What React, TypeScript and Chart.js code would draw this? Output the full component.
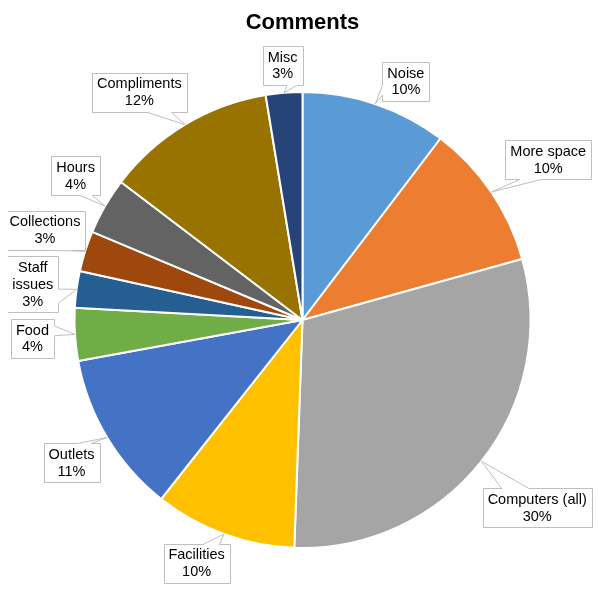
import React, { useEffect, useRef } from 'react';
import { Chart, registerables } from 'chart.js';

Chart.register(...registerables);

// ---- data ----
const categories = [
  'Noise',
  'More space',
  'Computers (all)',
  'Facilities',
  'Outlets',
  'Food',
  'Staff issues',
  'Collections',
  'Hours',
  'Compliments',
  'Misc',
];
const counts = [36, 36, 104, 35, 40, 13, 9, 10, 14, 42, 9];
const colors = [
  '#5B9BD5',
  '#ED7D31',
  '#A5A5A5',
  '#FFC000',
  '#4472C4',
  '#70AD47',
  '#255E91',
  '#9E480E',
  '#636363',
  '#997300',
  '#264478',
];
const titleText = 'Comments';

// ---- label layout (offset of callout box centre from slice edge point) ----
const labelOffsets: [number, number][] = [
  [30.6, -22.4],
  [57, -32.1],
  [55.7, 46.5],
  [-27.3, 29.2],
  [-35.6, 25.3],
  [-42.5, 4],
  [-43.8, -4.9],
  [-40.2, -20.8],
  [-29.5, -30],
  [-45.6, -32.6],
  [-1.3, -27.3],
];
const wrappedNames: Record<string, string[]> = { 'Staff issues': ['Staff', 'issues'] };

const FONT = "'Liberation Sans', Arial, Helvetica, sans-serif";
const LINE = 16.7;

const calloutPlugin = {
  id: 'callouts',
  afterDatasetsDraw(chart: any) {
    const ctx = chart.ctx as CanvasRenderingContext2D;
    const meta = chart.getDatasetMeta(0);
    const data = chart.data.datasets[0].data as number[];
    const total = data.reduce((a, b) => a + b, 0);
    ctx.save();
    ctx.font = `14.5px ${FONT}`;
    meta.data.forEach((arc: any, i: number) => {
      const { x, y, startAngle, endAngle, outerRadius } = arc.getProps(
        ['x', 'y', 'startAngle', 'endAngle', 'outerRadius'],
        true
      );
      const mid = (startAngle + endAngle) / 2;
      const tx = x + Math.cos(mid) * outerRadius;
      const ty = y + Math.sin(mid) * outerRadius;
      const name = categories[i];
      const lines = [...(wrappedNames[name] || [name]), Math.round((data[i] / total) * 100) + '%'];
      const tw = Math.max(...lines.map((l) => ctx.measureText(l).width));
      const w = Math.round(tw + 10);
      const h = Math.round(lines.length * LINE + 6);
      const cx = tx + labelOffsets[i][0];
      const cy = ty + labelOffsets[i][1];
      const l = Math.round(cx - w / 2) + 0.5;
      const t = Math.round(cy - h / 2) + 0.5;
      const r = l + w;
      const b = t + h;
      const dx = tx - cx;
      const dy = ty - cy;
      const dq = (dx * h) / w;
      const dz = Math.abs(dy) - Math.abs(dq);
      const x1 = l + (w * (dx > 0 ? 7 : 2)) / 12;
      const x2 = l + (w * (dx > 0 ? 10 : 5)) / 12;
      const y1 = t + (h * (dy > 0 ? 7 : 2)) / 12;
      const y2 = t + (h * (dy > 0 ? 10 : 5)) / 12;

      ctx.beginPath();
      ctx.moveTo(l, t);
      if (dz > 0 && dy < 0) {
        ctx.lineTo(x1, t);
        ctx.lineTo(tx, ty);
        ctx.lineTo(x2, t);
      }
      ctx.lineTo(r, t);
      if (dz <= 0 && dx > 0) {
        ctx.lineTo(r, y1);
        ctx.lineTo(tx, ty);
        ctx.lineTo(r, y2);
      }
      ctx.lineTo(r, b);
      if (dz > 0 && dy > 0) {
        ctx.lineTo(x2, b);
        ctx.lineTo(tx, ty);
        ctx.lineTo(x1, b);
      }
      ctx.lineTo(l, b);
      if (dz <= 0 && dx < 0) {
        ctx.lineTo(l, y2);
        ctx.lineTo(tx, ty);
        ctx.lineTo(l, y1);
      }
      ctx.closePath();
      ctx.fillStyle = '#FFFFFF';
      ctx.fill();
      ctx.strokeStyle = '#BFBFBF';
      ctx.lineWidth = 1;
      ctx.stroke();

      ctx.fillStyle = '#000000';
      ctx.textAlign = 'center';
      ctx.textBaseline = 'middle';
      const n = lines.length;
      lines.forEach((line, k) => {
        ctx.fillText(line, cx, cy + (k - (n - 1) / 2) * LINE + 0.5);
      });
    });
    ctx.restore();
  },
};

export default function App() {
  const canvasRef = useRef<HTMLCanvasElement | null>(null);

  useEffect(() => {
    if (!canvasRef.current) return;
    const chart = new Chart(canvasRef.current, {
      type: 'pie',
      data: {
        labels: categories,
        datasets: [
          {
            data: counts,
            backgroundColor: colors,
            borderColor: '#FFFFFF',
            borderWidth: 2,
            radius: 228,
          } as any,
        ],
      },
      options: {
        animation: false,
        responsive: true,
        maintainAspectRatio: false,
        layout: { padding: 0 },
        plugins: {
          legend: { display: false },
          tooltip: { enabled: false },
          title: {
            display: true,
            text: titleText,
            color: '#000000',
            font: { family: FONT, size: 22, weight: 'bold' },
            padding: { top: 2, bottom: 11.6 },
          },
        },
      },
      plugins: [calloutPlugin],
    });
    return () => chart.destroy();
  }, []);

  return (
    <div style={{ width: 605, height: 584, marginLeft: -8, position: 'relative' }}>
      <canvas ref={canvasRef} />
    </div>
  );
}
